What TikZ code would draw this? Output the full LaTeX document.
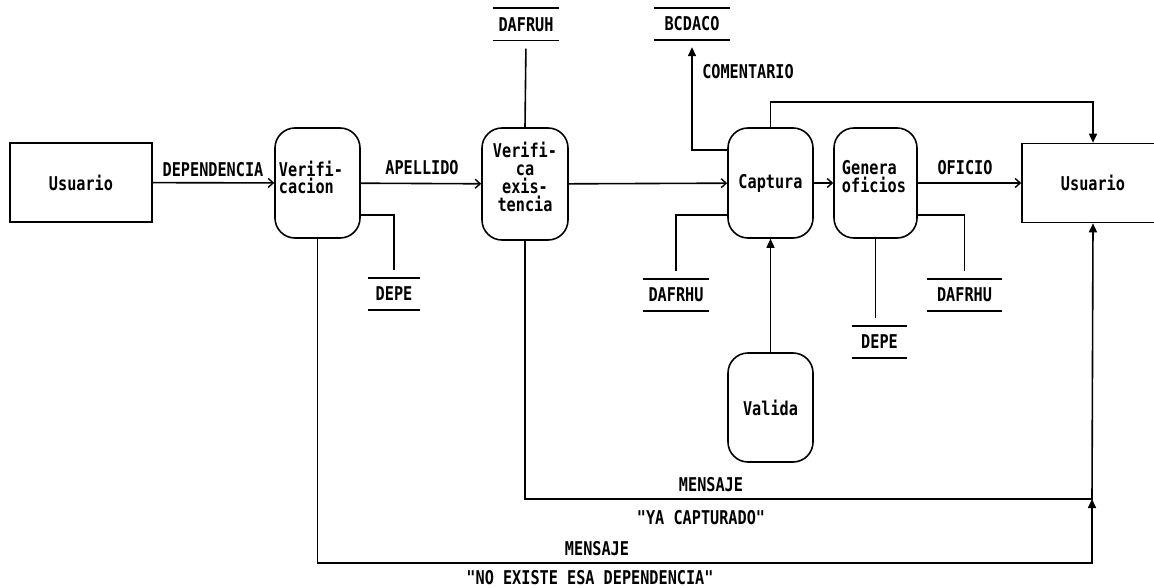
\documentclass[tikz,border=0pt]{standalone}
\usepackage{fontspec}
\newfontfamily\pix[FakeStretch=0.8]{DejaVu Sans Mono}
\usetikzlibrary{arrows.meta}
\begin{document}
\begin{tikzpicture}[x=1pt,y=-1pt,
  every node/.style={font=\pix\bfseries\fontsize{19}{16.5}\selectfont, inner sep=0pt},
  ln/.style={line width=1.6pt},
  ext/.style={draw, line width=1.6pt, minimum width=142pt, minimum height=79pt},
  proc/.style={draw, line width=1.6pt, rounded corners=20pt, minimum width=85pt, minimum height=110pt},
  store/.style={minimum height=32pt},
  flow/.style={ln, -{Straight Barb[length=5pt,width=9pt,line width=1.4pt]}},
  tri/.style={ln, -{Triangle[length=9pt,width=8pt]}}
]
\clip (0,0) rectangle (1154,588);
\fill[white] (0,0) rectangle (1154,588);

% external entities
\node[ext] (u1) at (81,182.5) {Usuario};
\node[ext] (u2) at (1093,183) {Usuario};

% processes
\node[proc] (ver) at (317.5,183) {};
\node[align=left] (vert) at (311,177.5) {Verifi-\\[1pt]cacion};
\node[proc, minimum width=86pt, minimum height=112pt] (vex) at (525,184) {};
\node[align=center] (vext) at (525,176.5) {Verifi-\\[1.5pt]ca\\[1.5pt]exis-\\[1.5pt]tencia};
\node[proc] (cap) at (770.5,183) {Captura};
\node[proc, minimum width=83pt] (gen) at (875.5,183) {};
\node[align=left] (gent) at (874,176.5) {Genera\\[1pt]oficios};
\node[proc, minimum height=109pt] (val) at (770.5,407.5) {Valida};

% data stores
\node[store, minimum width=66pt] (s1) at (526,24.5) {DAFRUH};
\node[store, minimum width=76pt] (s2) at (692,24) {BCDACO};
\node[store, minimum width=52pt] (s3) at (394,294) {DEPE};
\node[store, minimum width=66pt] (s4) at (676,295) {DAFRHU};
\node[store, minimum width=55pt] (s5) at (879.5,342) {DEPE};
\node[store, minimum width=75pt] (s6) at (964.5,295) {DAFRHU};
\foreach \n in {s1,s2,s3,s4,s5,s6}
  \draw[ln] (\n.north west) -- (\n.north east) (\n.south west) -- (\n.south east);

% coordinates
\coordinate (j) at (1092,499);
\coordinate (top) at (1093,102);

% flows
\draw[flow] (u1) -- (ver);
\draw[flow] (ver) -- (vex);
\draw[flow] (vex) -- (cap);
\draw[flow] (cap) -- (gen);
\draw[flow] (gen) -- (u2);

\draw[ln, shorten >=8pt] (vex.north) -- (s1.south);
\draw[ln, shorten >=8pt] (ver.east |- 0,215) -| (s3.north);
\draw[tri, shorten >=7pt] (cap.west |- 0,150) -| (s2.south);
\draw[ln, shorten >=8pt] (cap.west |- 0,215) -| (s4.north);
\draw[ln, shorten >=8pt] (gen.east |- 0,215) -| (s6.north);
\draw[ln, shorten >=8pt] (gen.south) -- (gen.south |- s5.north);
\draw[tri] (val.north) -- (cap.south);
\draw[tri] (cap.north) |- (top) -- (u2.north);
\draw[tri] (vex.south) |- (j) -- (u2.south);
\draw[tri] (ver.south) |- (1092,563) -- (j);

% labels
\node (l1) at (213,170) {DEPENDENCIA};
\node (l2) at (422,168) {APELLIDO};
\node (l3) at (748,72) {COMENTARIO};
\node (l4) at (965,168) {OFICIO};
\node (l5) at (711,485) {MENSAJE};
\node (l6) at (701,518) {\symbol{34}YA CAPTURADO\symbol{34}};
\node (l7) at (597,549) {MENSAJE};
\node (l8) at (590,578) {\symbol{34}NO EXISTE ESA DEPENDENCIA\symbol{34}};
\end{tikzpicture}
\end{document}
